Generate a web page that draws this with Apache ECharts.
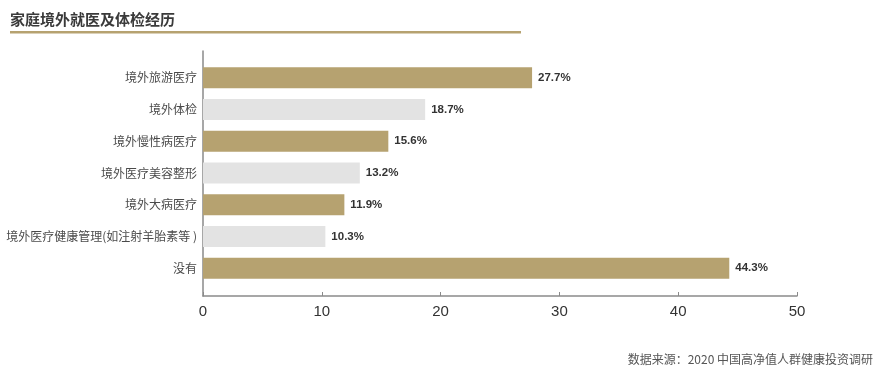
<!DOCTYPE html>
<html><head><meta charset="utf-8">
<script src="https://cdn.jsdelivr.net/npm/echarts@6/dist/echarts.min.js"></script>
<style>html,body{margin:0;padding:0;background:#fff}#c{width:882px;height:371px}</style>
</head><body><div id="c"></div>
<script>
const categories = ['境外旅游医疗','境外体检','境外慢性病医疗','境外医疗美容整形','境外大病医疗','境外医疗健康管理(如注射羊胎素等 )','没有'];
const values = [27.7, 18.7, 15.6, 13.2, 11.9, 10.3, 44.3];
const barColors = ['#b6a270','#e3e3e3','#b6a270','#e3e3e3','#b6a270','#e3e3e3','#b6a270'];
const xTicks = [0, 10, 20, 30, 40, 50];
const title = '家庭境外就医及体检经历';
const source = '数据来源：2020 中国高净值人群健康投资调研';

const font = '"Noto Sans CJK SC", "Liberation Sans", sans-serif';
const chart = echarts.init(document.getElementById('c'), null, {renderer: 'canvas'});
chart.setOption({
  animation: false,
  textStyle: {fontFamily: font},
  title: [
    {text: title, left: 5, top: 7, textStyle: {fontSize: 15, fontWeight: 'bold', color: '#3a3a3a', fontFamily: font}},
    {text: source, right: 4, top: 348, textStyle: {fontSize: 12, fontWeight: 'normal', color: '#555', fontFamily: font}}
  ],
  graphic: [
    {type: 'rect', shape: {x: 10, y: 31, width: 511, height: 2.5}, style: {fill: '#b6a270'}}
  ],
  grid: [
    {left: 203, right: 85, top: 51, bottom: 75},
    {left: 203, right: 85, top: 62, height: 222}
  ],
  xAxis: [
    {gridIndex: 0, type: 'value', min: xTicks[0], max: xTicks[xTicks.length-1], interval: 10,
     axisLine: {show: true, lineStyle: {color: '#8a8a8a', width: 1.5}},
     axisTick: {show: true, inside: true, length: 4, lineStyle: {color: '#8a8a8a'}},
     axisLabel: {fontSize: 15, color: '#333', margin: 8, fontFamily: '"Liberation Sans", sans-serif'},
     splitLine: {show: false}},
    {gridIndex: 1, type: 'value', min: xTicks[0], max: xTicks[xTicks.length-1], show: false, splitLine: {show: false}}
  ],
  yAxis: [
    {gridIndex: 0, type: 'value', min: 0, max: 1,
     axisLine: {show: true, lineStyle: {color: '#8a8a8a', width: 1.5}},
     axisTick: {show: false}, axisLabel: {show: false}, splitLine: {show: false}},
    {gridIndex: 1, type: 'category', data: categories, inverse: true,
     axisLine: {show: false}, axisTick: {show: false},
     axisLabel: {fontSize: 12, color: '#4a4a4a', margin: 6}}
  ],
  series: [{
    type: 'bar', xAxisIndex: 1, yAxisIndex: 1,
    data: values.map((v, i) => ({value: v, itemStyle: {color: barColors[i]}})),
    barWidth: 21,
    label: {show: true, position: 'right', distance: 6, formatter: p => p.value + '%',
            fontSize: 11.5, fontWeight: 'bold', color: '#333', fontFamily: '"Liberation Sans", sans-serif'}
  }]
});
</script></body></html>
